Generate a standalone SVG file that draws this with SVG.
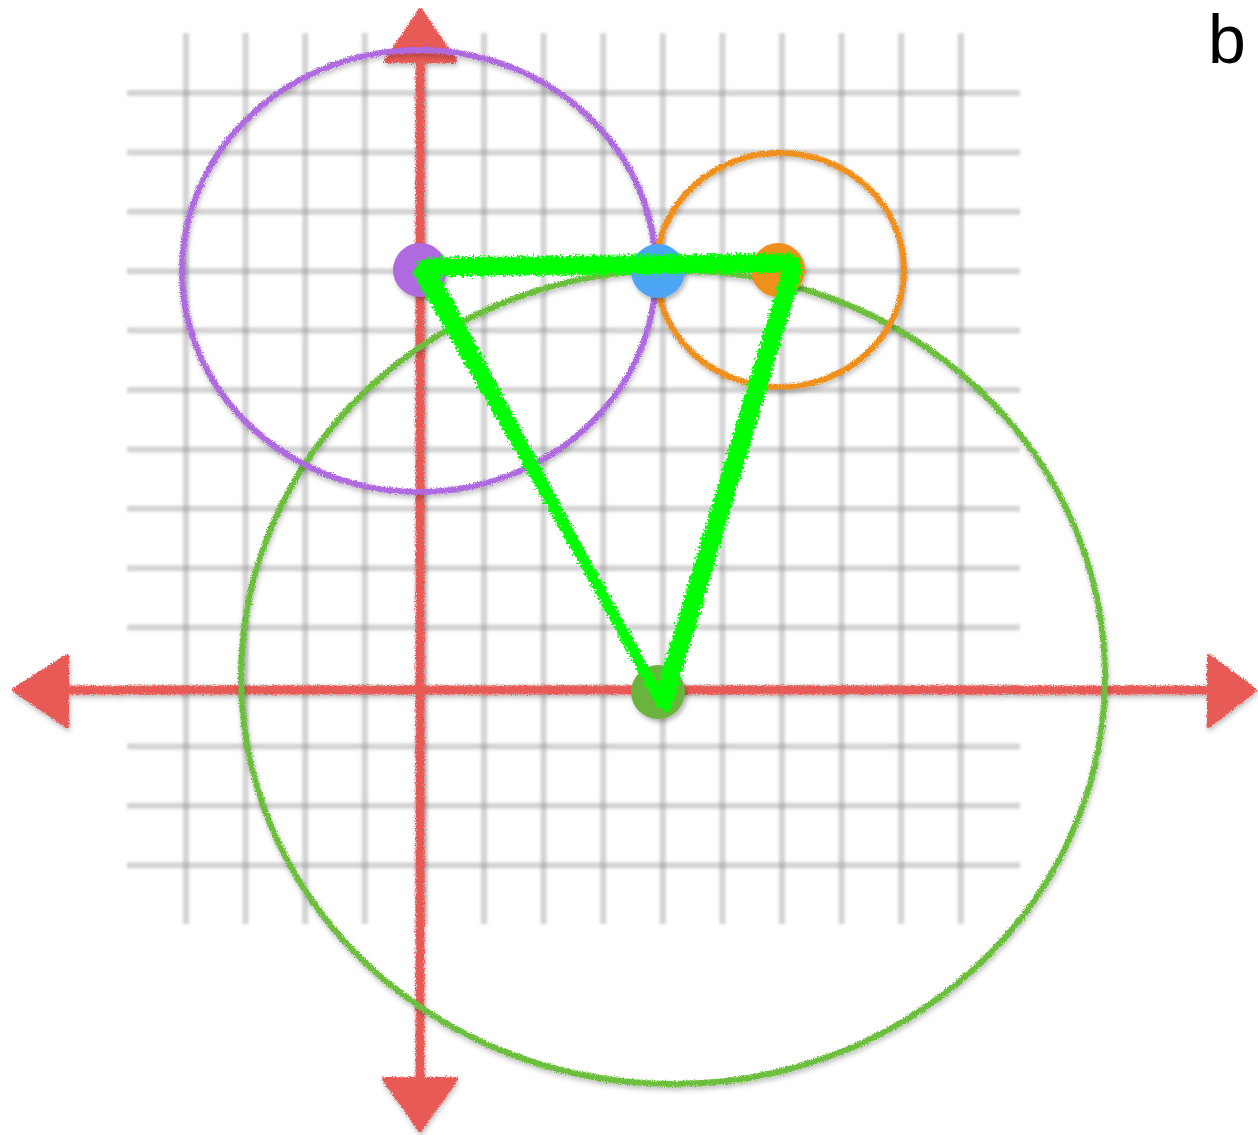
<svg xmlns="http://www.w3.org/2000/svg" width="1258" height="1135" viewBox="0 0 1258 1135">
  <defs>
    <filter id="blur" x="-5%" y="-5%" width="110%" height="110%">
      <feGaussianBlur stdDeviation="1.6"/>
    </filter>
    <filter id="rough" x="-10%" y="-10%" width="120%" height="120%">
      <feTurbulence type="fractalNoise" baseFrequency="0.9" numOctaves="2" seed="3" result="n"/>
      <feDisplacementMap in="SourceGraphic" in2="n" scale="5" xChannelSelector="R" yChannelSelector="G" result="d"/>
      <feDropShadow dx="1" dy="3" stdDeviation="2.5" flood-color="#000" flood-opacity="0.25"/>
    </filter>
    <filter id="chalk" x="-10%" y="-10%" width="120%" height="120%">
      <feTurbulence type="fractalNoise" baseFrequency="0.45" numOctaves="2" seed="7" result="n"/>
      <feDisplacementMap in="SourceGraphic" in2="n" scale="10" xChannelSelector="R" yChannelSelector="G"/>
    </filter>
    <filter id="shadow" x="-20%" y="-20%" width="140%" height="140%">
      <feDropShadow dx="2" dy="3" stdDeviation="2.5" flood-color="#000" flood-opacity="0.3"/>
    </filter>
  </defs>
  <style>
    .grid line { stroke: #8c8c8c; stroke-opacity: 0.38; stroke-width: 6; }
    .axis { stroke: #e85a55; stroke-width: 9; fill: none; }
    .head { fill: #e85a55; stroke: #e85a55; stroke-width: 4; stroke-linejoin: round; }
    .ring { fill: none; stroke-width: 6; }
    .tri { fill: none; stroke: #00ff00; stroke-linejoin: round; stroke-linecap: round; }
  </style>
  <rect width="1258" height="1135" fill="#ffffff"/>

  <g id="grid" class="grid" filter="url(#blur)">
    <line x1="186" y1="33" x2="186" y2="924"/>
    <line x1="245.6" y1="33" x2="245.6" y2="924"/>
    <line x1="305.2" y1="33" x2="305.2" y2="924"/>
    <line x1="364.8" y1="33" x2="364.8" y2="924"/>
    <line x1="424.4" y1="33" x2="424.4" y2="924"/>
    <line x1="484" y1="33" x2="484" y2="924"/>
    <line x1="543.6" y1="33" x2="543.6" y2="924"/>
    <line x1="603.2" y1="33" x2="603.2" y2="924"/>
    <line x1="662.8" y1="33" x2="662.8" y2="924"/>
    <line x1="722.4" y1="33" x2="722.4" y2="924"/>
    <line x1="782" y1="33" x2="782" y2="924"/>
    <line x1="841.6" y1="33" x2="841.6" y2="924"/>
    <line x1="901.2" y1="33" x2="901.2" y2="924"/>
    <line x1="960.8" y1="33" x2="960.8" y2="924"/>
    <line x1="127" y1="93" x2="1020" y2="93"/>
    <line x1="127" y1="152.4" x2="1020" y2="152.4"/>
    <line x1="127" y1="211.8" x2="1020" y2="211.8"/>
    <line x1="127" y1="271.2" x2="1020" y2="271.2"/>
    <line x1="127" y1="330.6" x2="1020" y2="330.6"/>
    <line x1="127" y1="390" x2="1020" y2="390"/>
    <line x1="127" y1="449.4" x2="1020" y2="449.4"/>
    <line x1="127" y1="508.8" x2="1020" y2="508.8"/>
    <line x1="127" y1="568.2" x2="1020" y2="568.2"/>
    <line x1="127" y1="627.6" x2="1020" y2="627.6"/>
    <line x1="127" y1="688" x2="1020" y2="688"/>
    <line x1="127" y1="746.4" x2="1020" y2="746.4"/>
    <line x1="127" y1="805.8" x2="1020" y2="805.8"/>
    <line x1="127" y1="865.2" x2="1020" y2="865.2"/>
  </g>

  <g id="connectors" filter="url(#rough)">
    <line class="axis" x1="420" y1="55" x2="420" y2="1085"/>
    <line class="axis" x1="60" y1="690" x2="1215" y2="690"/>
    <polygon class="head" points="420,10 386,61 455,61"/>
    <polygon class="head" points="384,1079 456,1079 420,1130"/>
    <polygon class="head" points="14,690 67,656 67,726"/>
    <polygon class="head" points="1209,656 1209,726 1255,690"/>
  </g>

  <g id="circle-green" filter="url(#rough)">
    <ellipse class="ring" cx="673" cy="677" rx="432" ry="407" stroke="#6cbf3c"/>
  </g>
  <g id="circle-purple" filter="url(#rough)">
    <ellipse class="ring" cx="419" cy="271" rx="237" ry="221" stroke="#b06ae0"/>
  </g>
  <g id="circle-orange" filter="url(#rough)">
    <ellipse class="ring" cx="780" cy="270" rx="124" ry="117" stroke="#f0901c"/>
  </g>

  <g id="dots" filter="url(#shadow)">
    <circle id="dot-purple" cx="420" cy="270" r="27" fill="#b06ae0"/>
    <circle id="dot-blue" cx="658" cy="271" r="27" fill="#4da6f5"/>
    <circle id="dot-orange" cx="778" cy="270" r="27" fill="#f0901c"/>
    <circle id="dot-green" cx="658" cy="692" r="27" fill="#6ab43c"/>
  </g>

  <g id="triangle" filter="url(#chalk)">
    <polygon class="tri" stroke-width="11" points="422,266 795,262 662,703"/>
    <polygon class="tri" stroke-width="7" points="428,261 790,257 658,697"/>
    <polygon class="tri" stroke-width="7" points="417,273 799,269 667,709"/>
  </g>

  <g id="label">
    <text x="1208" y="63" font-family="'Liberation Sans', Arial, sans-serif" font-size="68" fill="#000">b</text>
  </g>
</svg>
